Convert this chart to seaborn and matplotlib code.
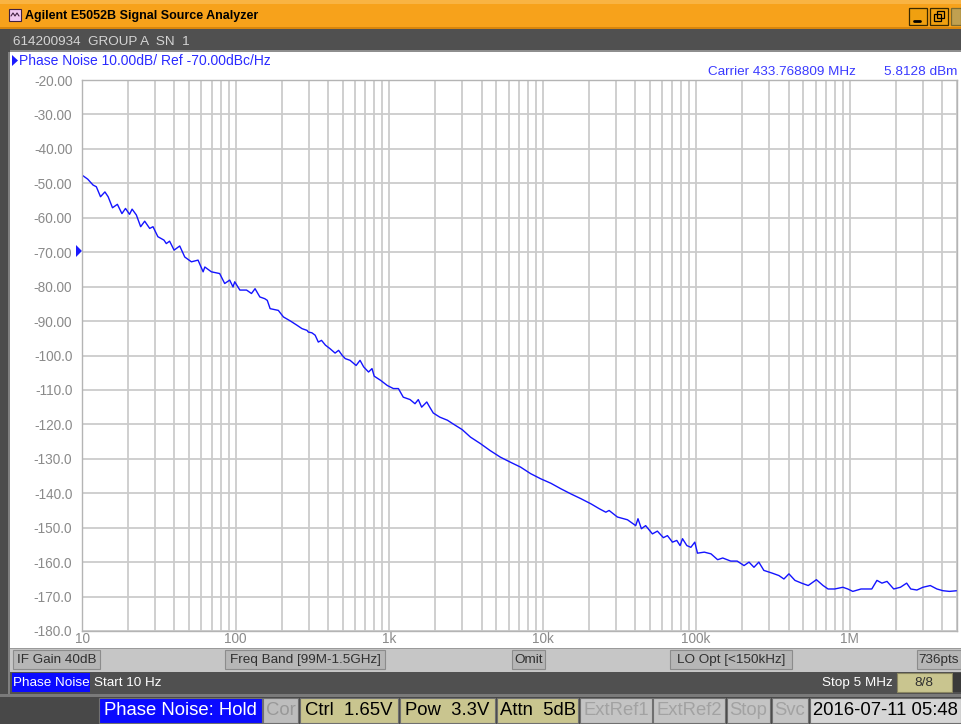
import matplotlib
matplotlib.use("Agg")
import matplotlib.pyplot as plt
import seaborn as sns
from matplotlib.patches import Rectangle, Polygon
from matplotlib.ticker import FixedLocator, LogLocator, NullFormatter

# =========================
# DATA (read from the analyzer screen)
# =========================
freq_hz = [
    10, 10.9, 11.8, 12.4, 13.2, 14.1, 14.8, 15.8, 17.0, 18.2,
    19.2, 20.4, 21.2, 22.6, 24.1, 25.6, 27.6, 29.0, 31.2, 34.2,
    35.4, 37.2, 39.8, 43.3, 46.7, 51.6, 57.0, 61.5, 63.1, 69.6,
    78.8, 85.0, 91.6, 96.3, 98.8, 106.7, 118, 127, 134, 144,
    155, 161, 168, 190, 205, 228, 251, 271, 292, 298,
    314, 330, 346, 363, 385, 412, 445, 469, 494, 518,
    557, 610, 647, 683, 735, 774, 800, 880, 973, 1067,
    1150, 1237, 1370, 1475, 1550, 1630, 1760, 1840, 1940, 2140,
    2400, 2640, 2990, 3390, 3940, 4550, 5300, 6180, 7180, 8350,
    9720, 11320, 13150, 15300, 17800, 20700, 23400, 25800, 27100, 30700,
    35700, 40400, 41800, 44000, 46900, 51900, 55900, 61200, 65000, 70100,
    74800, 78600, 81500, 87000, 92400, 98000, 102000, 113000, 125000, 138000,
    149000, 168000, 185000, 205000, 221000, 238000, 256000, 276000, 313000, 346000,
    373000, 402000, 440000, 486000, 537000, 607000, 671000, 723000, 798000, 903000,
    972000, 1048000, 1186000, 1393000, 1505000, 1622000, 1750000, 1936000, 2140000, 2350000,
    2500000, 2740000, 3000000, 3350000, 3700000, 4050000, 4460000, 5000000,
]
phase_noise_dbc = [
    -47.6, -48.8, -50.5, -51.0, -53.9, -52.5, -53.9, -57.1, -56.1, -58.8,
    -57.3, -59.0, -57.5, -59.2, -62.6, -61.0, -63.1, -62.6, -65.5, -66.5,
    -67.5, -66.8, -69.4, -68.2, -71.4, -72.8, -72.3, -75.7, -74.3, -75.7,
    -76.2, -79.1, -78.1, -80.1, -78.6, -81.0, -81.0, -82.0, -80.6, -83.0,
    -83.5, -84.0, -86.4, -86.9, -88.8, -90.0, -91.2, -92.2, -92.7, -93.2,
    -93.4, -94.1, -96.1, -95.6, -97.0, -98.0, -99.3, -98.5, -99.9, -100.9,
    -101.4, -102.9, -101.4, -103.3, -104.8, -103.8, -106.0, -107.2, -108.7, -109.6,
    -109.6, -112.1, -112.8, -114.0, -112.8, -115.0, -113.5, -115.0, -116.7, -117.9,
    -118.8, -120.0, -121.5, -123.7, -125.6, -127.6, -129.5, -131.0, -132.4, -134.3,
    -135.8, -137.1, -138.7, -140.2, -141.6, -143.1, -144.5, -145.5, -145.0, -146.9,
    -147.7, -149.4, -147.4, -150.3, -149.4, -151.8, -151.0, -152.9, -152.3, -154.2,
    -153.7, -155.2, -153.2, -155.2, -155.7, -154.2, -157.4, -157.1, -157.6, -159.3,
    -158.8, -159.7, -159.7, -161.0, -160.0, -161.5, -160.0, -162.4, -163.2, -163.9,
    -164.9, -163.4, -165.3, -166.1, -166.8, -165.1, -166.8, -167.8, -167.8, -167.3,
    -167.8, -168.5, -167.8, -167.8, -165.3, -166.1, -165.6, -167.8, -167.3, -166.1,
    -167.8, -168.1, -167.3, -166.8, -167.8, -168.3, -168.5, -168.3,
]

x_ticks = [10, 100, 1e3, 1e4, 1e5, 1e6]
x_tick_labels = ["10", "100", "1k", "10k", "100k", "1M"]
y_ticks = list(range(-180, -19, 10))
y_tick_labels = ["%.2f" % v if v > -100 else "%.1f" % v for v in y_ticks]

W, H = 961, 724

sns.set_style("white")
plt.rcParams["font.family"] = ["Liberation Sans", "DejaVu Sans"]

fig = plt.figure(figsize=(W / 100, H / 100), dpi=100)
fig.patch.set_facecolor("white")

# background "window" layer in pixel coordinates
bg = fig.add_axes([0, 0, 1, 1], zorder=0)
bg.set_xlim(0, W)
bg.set_ylim(H, 0)
bg.axis("off")


def box(x0, y0, x1, y1, fc, ec="none", lw=0.0):
    bg.add_patch(Rectangle((x0, y0), x1 - x0, y1 - y0, facecolor=fc,
                           edgecolor=ec, linewidth=lw))


def txt(x, y, s, size=9.5, color="black", ha="left", weight="normal"):
    bg.text(x, y, s, fontsize=size, color=color, ha=ha, va="center",
            fontweight=weight)


# =========================
# TITLE BAR
# =========================
box(0, 0, W, 29, "#f7a21b")
box(0, 0, W, 4, "#f9b443")
box(0, 27, W, 29, "#d9860c")
box(9, 9, 21, 21, "#f0c8f0", ec="#402040", lw=0.8)
bg.plot([11, 13, 15, 17, 19], [16, 13, 16, 13, 16], color="#402040", lw=0.8)
txt(25, 15.5, "Agilent E5052B Signal Source Analyzer", size=9, weight="bold")
box(909, 8, 927, 25, "#f0a010", ec="#3a2a00", lw=0.9)
bg.plot([914, 920], [21, 21], color="black", lw=2)
box(930, 8, 948, 25, "#f0a010", ec="#3a2a00", lw=0.9)
box(934, 14, 941, 21, "none", ec="black", lw=0.9)
box(937, 11, 944, 18, "none", ec="black", lw=0.9)
box(951, 8, 961, 25, "#c0a050", ec="#7a6a30", lw=0.9)

# =========================
# HEADER ROWS
# =========================
box(0, 29, W, 52, "#505050")
box(0, 50, W, 52, "#8e8e8e")
txt(13, 42, "614200934  GROUP A  SN  1", size=9.7, color="#d4d4d4")
box(0, 29, 10, 697, "#4c4c4c")
box(8, 52, 10, 697, "#808080")

bg.add_patch(Polygon([(12, 55), (18, 60.5), (12, 66)], closed=True,
                     facecolor="#1a1aff", edgecolor="none"))
txt(19, 61, "Phase Noise 10.00dB/ Ref -70.00dBc/Hz", size=10, color="#2a2aff")
txt(708, 72, "Carrier 433.768809 MHz", size=9.7, color="#3a3aff")
txt(957, 72, "5.8128 dBm", size=9.7, color="#3a3aff", ha="right")

# reference marker at -70 dB
bg.add_patch(Polygon([(76, 245), (82, 251), (76, 257)], closed=True,
                     facecolor="#1a1aff", edgecolor="none"))

# =========================
# SOFTKEY BAND AND STATUS BARS
# =========================
box(10, 648, W, 672, "#c6c6c6")
box(10, 648, W, 649, "#9a9a9a")
for x0, x1, label in [(13, 100, "IF Gain 40dB"), (225, 385, "Freq Band [99M-1.5GHz]"),
                      (512, 545, "Omit"), (670, 792, "LO Opt [<150kHz]"),
                      (917, 961, "736pts")]:
    box(x0, 650, x1, 669, "#b6b6b6", ec="#8c8c8c", lw=0.8)
    txt((x0 + x1) / 2, 660, label, size=9.7, color="#303030", ha="center")

box(10, 672, W, 694, "#505050")
box(12, 673, 90, 692, "#0a0aff")
txt(51, 683, "Phase Noise", size=9.7, color="white", ha="center")
txt(94, 683, "Start 10 Hz", size=9.7, color="white")
txt(893, 683, "Stop 5 MHz", size=9.7, color="white", ha="right")
box(897, 673, 952, 692, "#c9c58f", ec="#8a8660", lw=0.8)
txt(924, 683, "8/8", size=9.7, color="#303030", ha="center")
box(953, 673, 961, 692, "#3a3a3a")

box(0, 694, W, 697, "#7a7a7a")
box(0, 697, W, H, "#484848")
status = [
    (99, 262, "Phase Noise: Hold", "#0a0aff", "white"),
    (263, 298, "Cor", "#bdbdbd", "#989898"),
    (300, 398, "Ctrl  1.65V", "#c9c58f", "black"),
    (400, 495, "Pow  3.3V", "#c9c58f", "black"),
    (497, 578, "Attn  5dB", "#c9c58f", "black"),
    (580, 652, "ExtRef1", "#c4c4c4", "#a2a2a2"),
    (653, 725, "ExtRef2", "#c4c4c4", "#a2a2a2"),
    (727, 770, "Stop", "#c4c4c4", "#a2a2a2"),
    (772, 808, "Svc", "#c4c4c4", "#a2a2a2"),
]
for x0, x1, label, fc, tc in status:
    box(x0, 698, x1, 723, fc, ec="#707070", lw=0.8)
    txt((x0 + x1) / 2, 710.5, label, size=13.3, color=tc, ha="center")
box(810, 698, W, 723, "#d6d6d6", ec="#707070", lw=0.8)
txt(813, 710.5, "2016-07-11 05:48", size=13.3, color="black")

# =========================
# PHASE NOISE TRACE
# =========================
ax = fig.add_axes([82 / W, 1 - 631 / H, (957 - 82) / W, (631 - 80) / H], zorder=1)
ax.set_facecolor("white")

sns.lineplot(x=freq_hz, y=phase_noise_dbc, ax=ax, color="#1414ff",
             linewidth=1.0, estimator=None)

ax.set_xscale("log")
ax.set_xlim(10, 5e6)
ax.set_ylim(-180, -20)
ax.xaxis.set_major_locator(FixedLocator(x_ticks))
ax.xaxis.set_minor_locator(LogLocator(base=10, subs=range(2, 10), numticks=20))
ax.xaxis.set_minor_formatter(NullFormatter())
ax.set_xticklabels(x_tick_labels)
ax.set_yticks(y_ticks)
ax.set_yticklabels(y_tick_labels)
ax.get_yticklabels()[y_ticks.index(-70)].set_color("#2a2aff")

ax.grid(which="both", color="#cbcbcb", linewidth=1.3)
ax.set_axisbelow(True)
ax.tick_params(which="both", length=0, labelsize=9.8, labelcolor="#8a8a8a")
ax.tick_params(axis="y", pad=7)
ax.tick_params(axis="x", pad=1)
for s in ax.spines.values():
    s.set_color("#b4b4b4")
    s.set_linewidth(1.0)
ax.set_xlabel("")
ax.set_ylabel("")

plt.savefig("out.png", dpi=100)
